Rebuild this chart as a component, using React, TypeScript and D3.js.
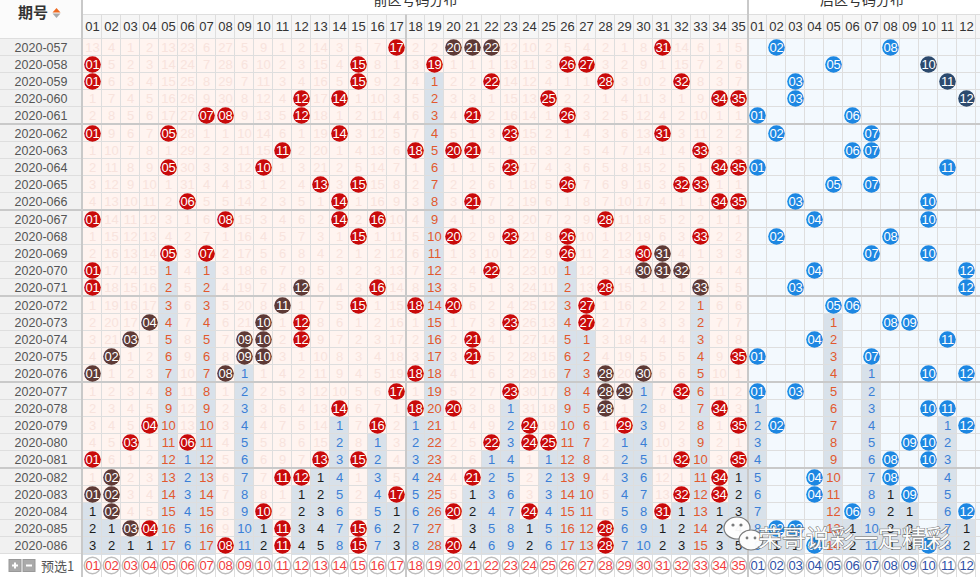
import React from 'react';
import * as d3 from 'd3';

const periods = [
  '2020-057','2020-058','2020-059','2020-060','2020-061',
  '2020-062','2020-063','2020-064','2020-065','2020-066',
  '2020-067','2020-068','2020-069','2020-070','2020-071',
  '2020-072','2020-073','2020-074','2020-075','2020-076',
  '2020-077','2020-078','2020-079','2020-080','2020-081',
  '2020-082','2020-083','2020-084','2020-085','2020-086',
];

const frontLabels = ['01','02','03','04','05','06','07','08','09','10','11','12','13','14','15','16','17','18','19','20','21','22','23','24','25','26','27','28','29','30','31','32','33','34','35'];
const backLabels = ['01','02','03','04','05','06','07','08','09','10','11','12'];

const frontDraws = [
  [17,20,21,22,31],[1,15,19,26,27],[1,15,22,28,32],[12,14,25,34,35],[7,8,12,21,26],
  [1,5,14,23,31],[11,18,20,21,33],[5,10,23,34,35],[13,15,26,32,33],[6,14,21,34,35],
  [1,8,14,16,28],[15,20,23,26,33],[5,7,26,30,31],[1,22,30,31,32],[1,12,16,28,33],
  [11,15,18,20,27],[4,10,12,23,27],[3,9,10,12,21],[2,9,10,21,35],[1,8,18,28,30],
  [17,23,28,29,32],[14,18,20,28,34],[4,16,24,29,35],[3,6,22,24,25],[1,13,15,32,35],
  [2,11,12,21,34],[1,2,17,32,34],[2,10,20,24,31],[3,4,11,15,28],[8,11,15,20,28],
];

const backDraws = [
  [2,8],[5,10],[3,11],[3,12],[1,6],
  [2,7],[6,7],[1,11],[5,7],[3,10],
  [4,10],[2,8],[7,10],[4,12],[3,12],
  [5,6],[8,9],[4,11],[1,7],[10,12],
  [1,3],[10,11],[2,12],[9,10],[8,10],
  [4,8],[4,9],[6,12],[2,3],[4,10],
];

// balls drawn in the dark "chain" colour
const frontChain = [
  [20,21,22],[],[],[],[],
  [],[],[],[],[],
  [],[],[31],[30,31,32],[12,33],
  [11],[4,10],[3,9,10],[2,9,10],[1,8,28,30],
  [28,29],[28],[],[],[],
  [2],[1,2],[2],[3],[],
];
const backChain = [
  [],[10],[11],[12],[],
  [],[],[],[],[],
  [],[],[],[],[],
  [],[],[],[],[],
  [],[],[],[],[],
  [],[],[],[],[],
];

// miss counts shown in the first row, 0 = drawn
const frontMissFirstRow = [13,4,1,2,13,23,6,27,5,9,1,2,14,3,5,7,0,2,2,0,0,0,12,10,2,5,4,2,1,8,0,14,6,1,5];
const backMissFirstRow = [3,0,4,2,6,5,3,0,9,4,2,7];

const W = 980, H = 577;
const LEFT = 83, RIGHT = 976;
const TOP_BAND = 14.5, HEAD_BOTTOM = 39, ROW_H = 17;
const FONT = '"Liberation Sans", Arial, sans-serif';
const CJK = '"Noto Sans CJK SC", "Liberation Sans", sans-serif';

const C = {
  red: '#c90a0a', brown: '#5e3a36', blue: '#1d87e2', navy: '#2c4a6e',
  frontBg: '#fff4f0', backBg: '#f3f9fe', streakBg: '#d8e1ea',
  grid: '#dedede', sep: '#c9c9c9', faint: '#f8e3dd',
  sOrange: '#e2592e', sBlue: '#3b7fd6', sBlack: '#1c1c1c',
};

function missGrid(draws: number[][], first: number[], n: number) {
  const grid: number[][] = [];
  draws.forEach((row, r) => {
    const vals: number[] = [];
    for (let c = 0; c < n; c++) {
      if (row.includes(c + 1)) vals.push(0);
      else if (r === 0) vals.push(first[c]);
      else vals.push(grid[r - 1][c] + 1);
    }
    grid.push(vals);
  });
  return grid;
}

export default function App() {
  const nF = frontLabels.length, nB = backLabels.length;
  const x = d3.scaleBand<number>().domain(d3.range(nF + nB)).range([LEFT, RIGHT]);
  const bw = x.bandwidth();
  const rowScale = d3.scaleLinear().domain([0, periods.length]).range([HEAD_BOTTOM, HEAD_BOTTOM + periods.length * ROW_H]);
  const rowTop = (i: number) => rowScale(i) + Math.floor(i / 5);
  const nRows = periods.length;
  const gridBottom = rowTop(nRows - 1) + ROW_H;

  const fMiss = missGrid(frontDraws, frontMissFirstRow, nF);
  const bMiss = missGrid(backDraws, backMissFirstRow, nB);

  const lastRow = nRows - 1;
  const streakColor = (len: number) => (len >= 12 ? C.sOrange : len >= 6 ? C.sBlue : C.sBlack);

  const shade: JSX.Element[] = [];
  const texts: JSX.Element[] = [];
  const balls: JSX.Element[] = [];

  const zones = [
    { n: nF, offset: 0, draws: frontDraws, chain: frontChain, miss: fMiss, ball: C.red, dark: C.brown, faint: true },
    { n: nB, offset: nF, draws: backDraws, chain: backChain, miss: bMiss, ball: C.blue, dark: C.navy, faint: false },
  ];

  zones.forEach((z, zi) => {
    for (let c = 0; c < z.n; c++) {
      const finalMiss = z.miss[lastRow][c];
      const streakStart = lastRow - finalMiss + 1;
      const cx = (x(z.offset + c) as number) + bw / 2;
      for (let r = 0; r < nRows; r++) {
        const y0 = rowTop(r);
        const cy = y0 + ROW_H / 2;
        const num = c + 1;
        const key = `${zi}-${c}-${r}`;
        if (z.draws[r].includes(num)) {
          const isDark = z.chain[r].includes(num);
          balls.push(
            <g key={'b' + key}>
              <circle cx={cx} cy={cy} r={8.3} fill={isDark ? z.dark : z.ball} />
              <text x={cx} y={cy + 4.6} textAnchor="middle" fontSize={13} fill="#fff" fontFamily={FONT} letterSpacing={-0.3}>{String(num).padStart(2, '0')}</text>
            </g>
          );
        } else if (finalMiss > 0 && r >= streakStart) {
          shade.push(<rect key={'s' + key} x={x(z.offset + c)} y={y0} width={bw} height={ROW_H + 1} fill={C.streakBg} />);
          texts.push(
            <text key={'t' + key} x={cx} y={cy + 4.6} textAnchor="middle" fontSize={13} fill={streakColor(finalMiss)} fontFamily={FONT}>{z.miss[r][c]}</text>
          );
        } else if (z.faint) {
          texts.push(
            <text key={'f' + key} x={cx} y={cy + 4.6} textAnchor="middle" fontSize={13} fill={C.faint} fontFamily={FONT}>{z.miss[r][c]}</text>
          );
        }
      }
    }
  });

  const xFrontEnd = x(nF) as number;
  const x17 = x(17) as number;
  const colEdges = d3.range(nF + nB).map((i) => x(i) as number).concat([RIGHT]);
  const rowEdges = d3.range(nRows).map((i) => rowTop(i)).concat([gridBottom]);

  const previewY = gridBottom + (H - gridBottom) / 2;

  return (
    <svg width={W} height={H} style={{ position: 'absolute', left: 0, top: 0, background: '#fff' }}>
      <rect x={0} y={0} width={W} height={H} fill="#fff" />
      <rect x={LEFT} y={TOP_BAND} width={W - LEFT} height={HEAD_BOTTOM - TOP_BAND} fill="#f6f6f6" />
      <rect x={0} y={0} width={LEFT} height={HEAD_BOTTOM} fill="#fbfbfb" />
      <rect x={0} y={HEAD_BOTTOM} width={LEFT} height={gridBottom - HEAD_BOTTOM} fill="#f1f1f1" />
      <rect x={LEFT} y={HEAD_BOTTOM} width={xFrontEnd - LEFT} height={gridBottom - HEAD_BOTTOM} fill={C.frontBg} />
      <rect x={xFrontEnd} y={HEAD_BOTTOM} width={W - xFrontEnd} height={gridBottom - HEAD_BOTTOM} fill={C.backBg} />
      {shade}

      {colEdges.map((v, i) => (
        <line key={'vc' + i} x1={v - 0.5} x2={v - 0.5} y1={TOP_BAND} y2={H} stroke={C.grid} strokeWidth={1} />
      ))}
      {rowEdges.map((v, i) => (
        <line key={'hr' + i} x1={0} x2={W} y1={v - 0.5} y2={v - 0.5} stroke={C.grid} strokeWidth={1} />
      ))}
      <line x1={LEFT} x2={W} y1={TOP_BAND} y2={TOP_BAND} stroke={C.grid} />
      {d3.range(1, nRows / 5).map((k) => (
        <rect key={'gs' + k} x={0} y={rowTop(5 * k) - 2} width={W} height={2} fill={C.sep} />
      ))}
      <rect x={LEFT - 2} y={0} width={2} height={H} fill={C.sep} />
      <rect x={xFrontEnd - 1} y={0} width={2} height={H} fill={C.sep} />
      <rect x={x17 - 1} y={TOP_BAND} width={2} height={H - TOP_BAND} fill={C.sep} />

      <text x={(LEFT + xFrontEnd) / 2} y={5} textAnchor="middle" fontSize={14} fill="#333" fontFamily={CJK}>前区号码分布</text>
      <text x={(xFrontEnd + RIGHT) / 2} y={5} textAnchor="middle" fontSize={14} fill="#333" fontFamily={CJK}>后区号码分布</text>
      <text x={33} y={18} textAnchor="middle" fontSize={15} fontWeight="bold" fill="#333" fontFamily={CJK}>期号</text>
      <path d="M52.5,12.5 L56.5,8 L60.5,12.5 Z" fill="#ee6a22" />
      <path d="M52.5,13.5 L56.5,18 L60.5,13.5 Z" fill="#a9a9a9" />
      {frontLabels.concat(backLabels).map((lab, i) => (
        <text key={'h' + i} x={(x(i) as number) + bw / 2} y={31} textAnchor="middle" fontSize={13} fill="#333" fontFamily={FONT}>{lab}</text>
      ))}

      {periods.map((p, r) => (
        <text key={'p' + r} x={41} y={rowTop(r) + ROW_H / 2 + 4.5} textAnchor="middle" fontSize={12.5} fill="#555" fontFamily={FONT}>{p}</text>
      ))}

      {texts}
      {balls}

      <rect x={9} y={previewY - 6} width={12} height={12} fill="#aaa" stroke="#999" />
      <path d={`M12,${previewY} H18 M15,${previewY - 3} V${previewY + 3}`} stroke="#fff" strokeWidth={2} />
      <rect x={23} y={previewY - 6} width={12} height={12} fill="#aaa" stroke="#999" />
      <path d={`M26,${previewY} H32`} stroke="#fff" strokeWidth={2} />
      <text x={41} y={previewY + 5} fontSize={13} fill="#555" fontFamily={CJK}>预选1</text>
      {frontLabels.concat(backLabels).map((lab, i) => {
        const cx = (x(i) as number) + bw / 2;
        return (
          <g key={'pv' + i}>
            <circle cx={cx} cy={previewY} r={8.3} fill="#fff" stroke="#bdbdbd" strokeWidth={1.4} />
            <text x={cx} y={previewY + 4.6} textAnchor="middle" fontSize={13} fill={i < nF ? '#f23b3b' : '#2d4fa6'} fontFamily={FONT} letterSpacing={-0.3}>{lab}</text>
          </g>
        );
      })}

      <g opacity={0.95}>
        <ellipse cx={737} cy={528} rx={13} ry={11} fill="#fff" stroke="#777" strokeWidth={1.2} />
        <ellipse cx={751} cy={540} rx={12} ry={10} fill="#fff" stroke="#777" strokeWidth={1.2} />
        <circle cx={733} cy={525} r={1.6} fill="#777" />
        <circle cx={741} cy={525} r={1.6} fill="#777" />
        <circle cx={747} cy={538} r={1.4} fill="#777" />
        <circle cx={755} cy={538} r={1.4} fill="#777" />
        <text x={758} y={547} fontSize={24} fill="#fff" stroke="#666" strokeWidth={1} paintOrder="stroke" fontFamily={CJK}>荣哥说彩一定精彩</text>
      </g>
    </svg>
  );
}
